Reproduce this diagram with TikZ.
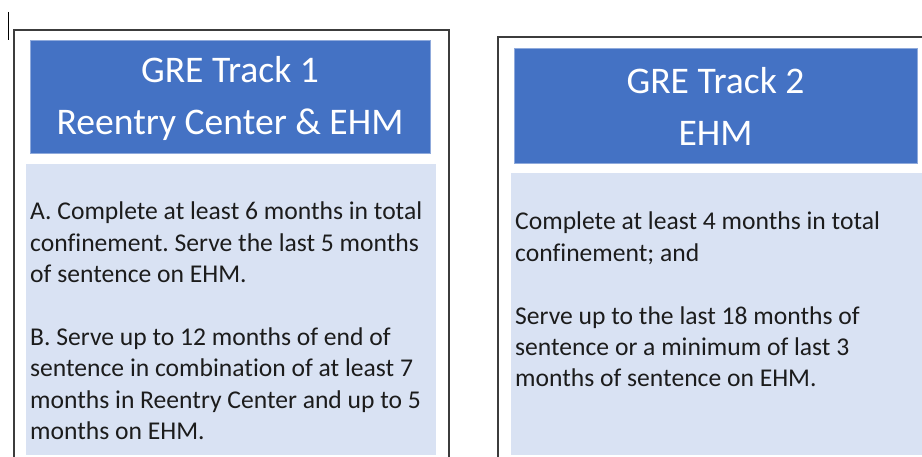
\documentclass[tikz,border=0pt]{standalone}
\usepackage{fontspec}
\setmainfont{Carlito}[Ligatures=NoCommon]
\frenchspacing
\definecolor{hdr}{HTML}{4472C4}
\definecolor{bodyc}{HTML}{D9E2F3}
\definecolor{txt}{HTML}{1C1C1C}
\definecolor{framec}{HTML}{3C3C3C}
\tikzset{
  hdrbox/.style={fill=hdr, draw=hdr!60!white, line width=0.6pt, inner sep=0pt},
  hdrtext/.style={text=white, align=center, font=\fontsize{37.6}{52}\selectfont, inner sep=0pt},
  bodytext/.style={text=txt, align=left, anchor=north west, inner sep=0pt,
    font=\fontsize{25.6}{31.4}\selectfont},
  framel/.style={draw=framec, line width=1.4pt}
}
\begin{document}
\begin{tikzpicture}[x=1pt,y=-1pt]
\useasboundingbox (0,0) rectangle (922,457);
\fill[white] (0,0) rectangle (922,457);
% cursor mark
\draw[black, line width=1pt] (8,12) -- (8,40);
% outer frames
\draw[framel] (14,458) -- (14,30) -- (449,30) -- (449,458);
\draw[framel] (498,458) -- (498,37) -- (924,37);
% body panels
\fill[bodyc] (26,164) rectangle (436,455);
\fill[bodyc] (511,173) rectangle (924,455);
% headers
\node[hdrbox, minimum width=400pt, minimum height=113pt] (h1) at (230,96.5) {};
\node[hdrtext] (h1t) at ([yshift=-2pt]h1.center) {GRE Track 1\\Reentry Center \& EHM};
\node[hdrbox, minimum width=403pt, minimum height=115pt] (h2) at (715.5,105.5) {};
\node[hdrtext] (h2t) at ([yshift=-1pt]h2.center) {GRE Track 2\\EHM};
% body texts
\node[bodytext] (t1) at (30,202)
  {A. Complete at least 6 months in total\\
   confinement. Serve the last 5 months\\
   of sentence on EHM.\\[31.4pt]
   B. Serve up to 12 months of end of\\
   sentence in combination of at least 7\\
   months in Reentry Center and up to 5\\
   months on EHM.};
\node[bodytext] (t2) at (515,212)
  {Complete at least 4 months in total\\
   confinement; and\\[31.4pt]
   Serve up to the last 18 months of\\
   sentence or a minimum of last 3\\
   months of sentence on EHM.};
\end{tikzpicture}
\end{document}
